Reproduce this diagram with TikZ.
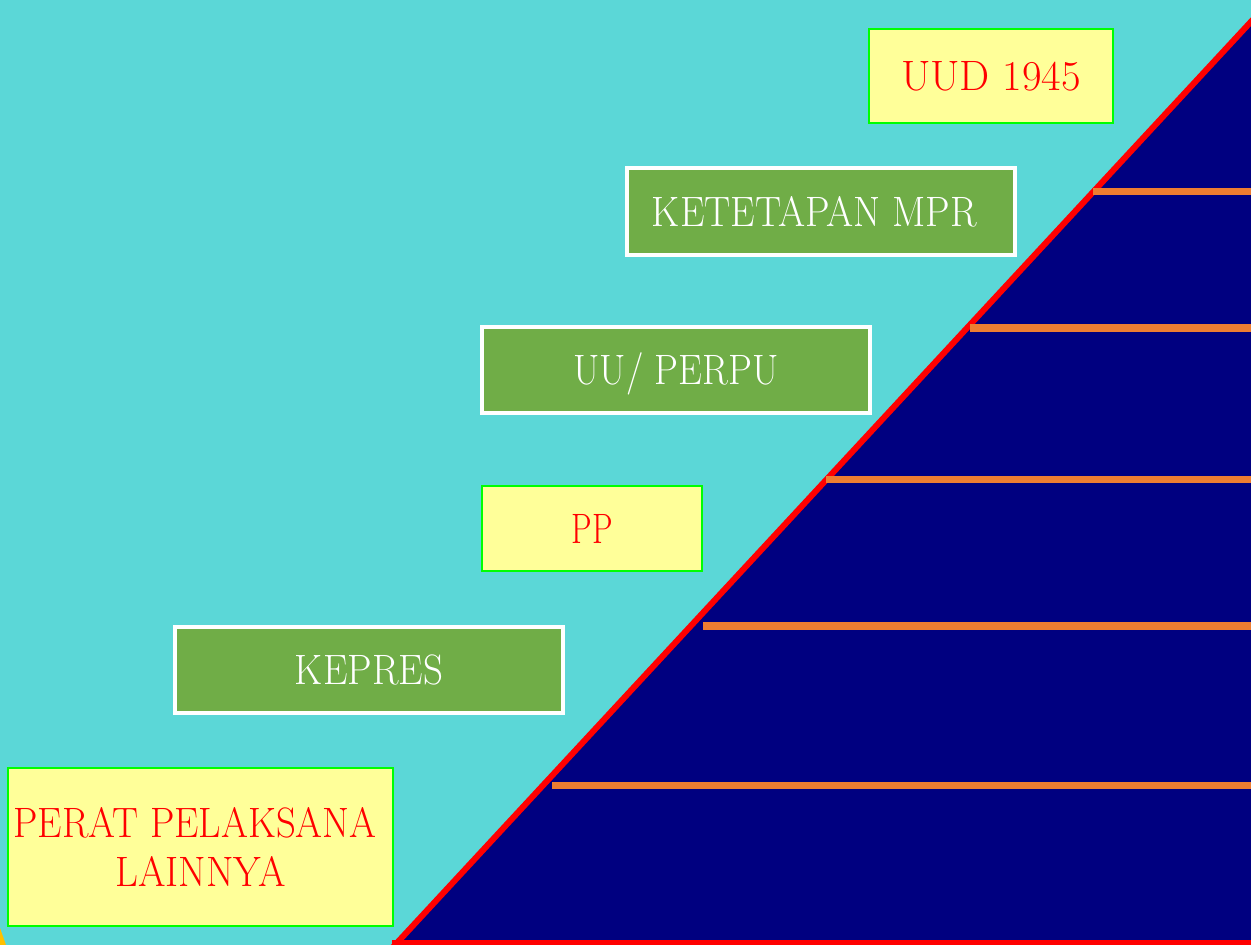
\documentclass[tikz,border=0pt]{standalone}
\usepackage{graphicx}

\definecolor{sky}{HTML}{5BD7D7}
\definecolor{deepnavy}{HTML}{000080}
\definecolor{edgered}{HTML}{FF0000}
\definecolor{stepline}{HTML}{ED7D31}
\definecolor{leafgreen}{HTML}{70AD47}
\definecolor{paleyellow}{HTML}{FFFF99}
\definecolor{brightgreen}{HTML}{00FF00}
\definecolor{amber}{HTML}{FFC000}

% stretch a label to a given width, keeping its height
\newcommand\fitw[2]{\resizebox{#1}{\height}{#2}}

\tikzset{
  lawtext/.style={font=\fontsize{42.5}{49}\selectfont, inner sep=0pt,
                  text height=29pt, text depth=0pt, align=center},
  yellowbox/.style={lawtext, draw=brightgreen, line width=2pt, fill=paleyellow,
                    text=edgered},
  greenbox/.style={lawtext, draw=white, line width=4pt, fill=leafgreen,
                   text=white},
  tier/.style={stepline, line width=7.5pt},
}

\begin{document}
\begin{tikzpicture}[x=1pt, y=-1pt]
  \useasboundingbox (0,0) rectangle (1251,945);
  \fill[sky] (0,0) rectangle (1251,945);
  \fill[amber] (0,928) -- (6,945) -- (0,945) -- cycle;

  % the pyramid
  \coordinate (base) at (392.2,948);
  \coordinate (apex) at (1272,-1);
  \fill[deepnavy] (base) -- (apex) -- (1272,948) -- cycle;
  \draw[edgered, line width=6pt] (392,943) -- (1272,943);
  \draw[edgered, line width=6pt] (base) -- (apex);

  % tier lines
  \draw[tier] (1093,191.5) -- (1260,191.5);
  \draw[tier] (970,328) -- (1260,328);
  \draw[tier] (826,479.5) -- (1260,479.5);
  \draw[tier] (703,626) -- (1260,626);
  \draw[tier] (552,785.5) -- (1260,785.5);

  % hierarchy labels
  \node[yellowbox, minimum width=244pt, minimum height=94pt]
    (uud) at (991,76) {\fitw{180pt}{UUD 1945}};
  \node[greenbox, minimum width=388pt, minimum height=87pt]
    (mpr) at (821,211.5) {\fitw{325pt}{KETETAPAN MPR}\hspace*{13pt}};
  \node[greenbox, minimum width=388pt, minimum height=86pt]
    (uu) at (676,370) {\fitw{205pt}{UU/ PERPU}};
  \node[yellowbox, minimum width=220pt, minimum height=85pt]
    (pp) at (592,528.5) {\fitw{41pt}{PP}};
  \node[greenbox, minimum width=388pt, minimum height=86pt]
    (kepres) at (369,670) {\fitw{148pt}{KEPRES}};
  \node[yellowbox, minimum width=385pt, minimum height=158pt, text height=78pt]
    (perat) at (200.5,847) {\fitw{363pt}{PERAT PELAKSANA}\hspace*{11pt}\\\fitw{170pt}{LAINNYA}};
\end{tikzpicture}
\end{document}
